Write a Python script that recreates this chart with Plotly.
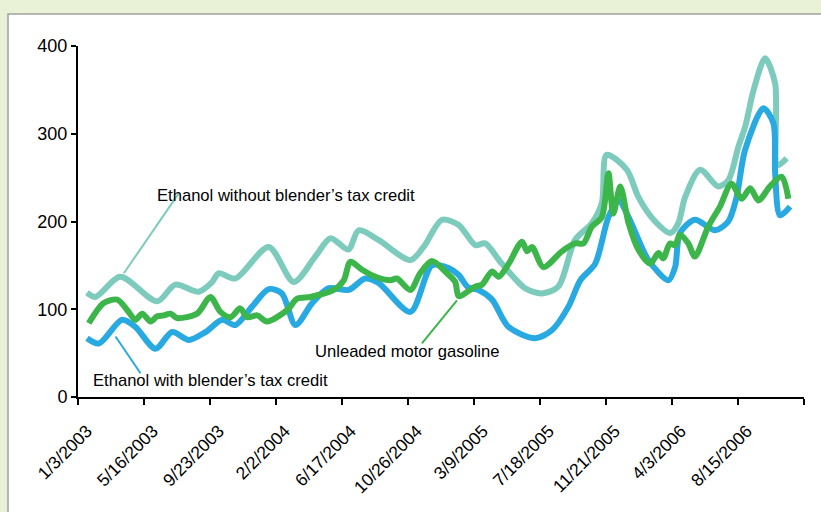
import plotly.graph_objects as go

# x positions in weeks from 1/3/2003 (category-like axis, tick every 19 weeks)
tick_weeks = [0, 19, 38, 57, 76, 95, 114, 133, 152, 171, 190, 209]
tick_labels = ["1/3/2003", "5/16/2003", "9/23/2003", "2/2/2004", "6/17/2004",
               "10/26/2004", "3/9/2005", "7/18/2005", "11/21/2005", "4/3/2006",
               "8/15/2006", ""]
y_ticks = [0, 100, 200, 300, 400]

no_credit_weeks = [2.6, 5.0, 12.2, 22.8, 28.0, 34.7, 38.6, 40.5, 45.3, 54.9, 62.1, 68.3,
                   72.7, 77.8, 80.8, 86.5, 95.7, 99.5, 104.8, 109.6, 111.5, 114.4, 117.2,
                   122.0, 128.7, 133.5, 138.3, 143.1, 147.9, 150.8, 152.2, 158.0, 161.3,
                   165.7, 170.5, 172.8, 174.8, 179.1, 184.3, 187.2, 190.1, 192.2, 194.5,
                   197.8, 200.7, 201.4, 204.0]
no_credit_vals = [119, 114, 137, 109, 128, 120, 131, 141, 135, 171, 131, 160,
                  181, 168, 190, 179, 156, 171, 202, 196, 187, 173, 175,
                  152, 124, 118, 126, 179, 198, 221, 276, 259, 228,
                  202, 187, 198, 228, 259, 240, 247, 285, 310, 350,
                  386, 357, 264, 272]

credit_weeks = [2.6, 6.0, 12.7, 16.5, 22.3, 27.1, 31.9, 36.7, 41.5, 45.3, 50.1, 54.9,
                58.7, 62.6, 67.4, 72.2, 77.9, 82.7, 86.5, 95.7, 101.9, 106.7, 109.6,
                112.3, 115.3, 119.2, 123.9, 131.6, 136.4, 141.2, 144.6, 148.9, 152.7,
                155.6, 158.5, 164.2, 170.0, 171.9, 173.3, 177.6, 183.4, 187.2, 189.6,
                192.0, 197.3, 200.2, 200.7, 202.1, 205.0]
credit_vals = [67, 61, 88, 80, 55, 74, 65, 74, 88, 82, 103, 123,
               118, 82, 107, 124, 122, 135, 130, 97, 150, 147, 139,
               125, 122, 111, 80, 67, 76, 103, 133, 152, 205,
               224, 205, 156, 133, 148, 187, 202, 190, 200, 228,
               281, 329, 312, 255, 207, 217]

gas_weeks = [3.1, 7.4, 11.3, 14.2, 16.5, 18.5, 20.9, 22.8, 24.7, 26.6, 28.5, 34.3,
             38.1, 41.0, 43.9, 46.7, 48.7, 51.6, 54.4, 60.2, 63.1, 66.9, 73.6, 76.5,
             78.4, 81.8, 85.6, 89.9, 91.8, 95.7, 98.5, 101.9, 106.2, 108.6, 109.6,
             114.4, 116.3, 119.2, 121.1, 124.0, 127.8, 129.3, 130.7, 134.0, 139.3,
             143.1, 145.5, 147.9, 150.8, 152.7, 154.1, 156.1, 158.5, 161.3, 164.7,
             167.1, 168.5, 170.4, 171.9, 173.3, 175.7, 177.6, 181.4, 184.8, 188.1,
             191.1, 193.5, 195.9, 199.2, 202.6, 204.5]
gas_vals = [84, 107, 111, 99, 88, 95, 86, 92, 93, 95, 90, 95,
            114, 97, 91, 101, 91, 93, 86, 99, 112, 114, 122, 133,
            154, 145, 137, 133, 135, 122, 141, 155, 141, 131, 115,
            126, 128, 143, 137, 152, 177, 166, 171, 148, 166,
            175, 175, 194, 205, 255, 209, 240, 198, 168, 152,
            164, 158, 175, 173, 185, 175, 160, 194, 217, 243,
            226, 238, 224, 240, 251, 226]

TEAL = "#7ccbbc"
BLUE = "#29a9e1"
GREEN = "#3cb54a"
BG = "#e9f2d6"

fig = go.Figure()
for xs, ys, col in [(no_credit_weeks, no_credit_vals, TEAL),
                    (credit_weeks, credit_vals, BLUE),
                    (gas_weeks, gas_vals, GREEN)]:
    fig.add_trace(go.Scatter(x=xs, y=ys, mode="lines",
                             line=dict(color=col, width=6, shape="spline", smoothing=0.8),
                             showlegend=False, hoverinfo="skip"))

# leader lines for labels
leaders = [((29.0, 232), (13.2, 141), TEAL),
           ((10.8, 69), (18.0, 27), BLUE),
           ((99.0, 61), (109.1, 110), GREEN)]
for (x0, y0), (x1, y1), col in leaders:
    fig.add_shape(type="line", x0=x0, y0=y0, x1=x1, y1=y1, xref="x", yref="y",
                  line=dict(color=col, width=2))

labels = [("Ethanol without blender\u2019s tax credit", 22.3, 230),
          ("Ethanol with blender\u2019s tax credit", 3.6, 19),
          ("Unleaded motor gasoline", 67.7, 52)]
for txt, x, y in labels:
    fig.add_annotation(x=x, y=y, text=txt, showarrow=False, xanchor="left", yanchor="middle",
                       font=dict(family="Liberation Sans, Arial", size=16.6, color="#000000"))

# white panel with gray border on a light green background
fig.add_shape(type="rect", xref="paper", yref="paper",
              x0=-0.0964, x1=1.2, y0=-0.6, y1=1.091,
              fillcolor="white", line=dict(color="#a0a0a0", width=1.5), layer="below")

fig.update_layout(
    width=821, height=512,
    margin=dict(l=78, r=17, t=46, b=115),
    paper_bgcolor=BG,
    plot_bgcolor="rgba(0,0,0,0)",
    font=dict(family="Liberation Sans, Arial", size=16, color="#000000"),
    xaxis=dict(range=[0, 209], tickvals=tick_weeks, ticktext=tick_labels,
               tickangle=-45, showgrid=False, zeroline=False, automargin=False,
               showline=True, linecolor="black", linewidth=2,
               ticks="outside", ticklen=6, tickwidth=1.5, tickcolor="black",
               ticklabelshift=9, ticklabelstandoff=9,
               tickfont=dict(size=17.5)),
    yaxis=dict(range=[0, 400], tickvals=y_ticks, showgrid=False, zeroline=False,
               automargin=False,
               showline=True, linecolor="black", linewidth=2,
               ticks="outside", ticklen=5, tickwidth=1.5, tickcolor="black",
               tickfont=dict(size=18)),
)

fig.write_html("out.html",
               config={"displayModeBar": False},
               post_script="document.body.style.margin='0';"
                           "document.body.style.background='" + BG + "';")
